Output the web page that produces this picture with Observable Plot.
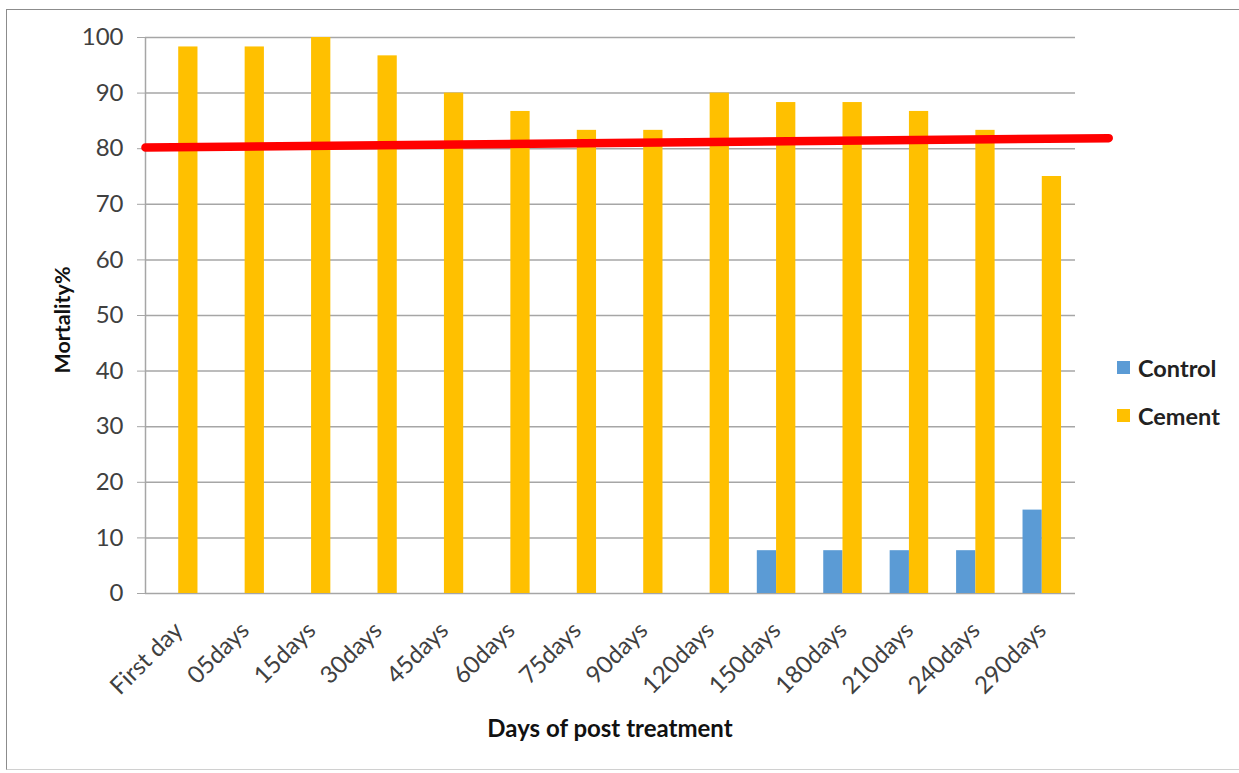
<!DOCTYPE html>
<html>
<head>
<meta charset="utf-8">
<script src="https://cdn.jsdelivr.net/npm/d3@7"></script>
<script src="https://cdn.jsdelivr.net/npm/@observablehq/plot@0.6"></script>
<style>
  html, body { margin: 0; padding: 0; background: #fff; }
  #wrap { position: relative; width: 1239px; height: 773px; overflow: hidden; font-family: Lato, "Open Sans", sans-serif; }
  #frame { position: absolute; left: 6px; top: 9px; width: 1300px; height: 761px; border-left: 1.5px solid #8c8c8c; border-top: 1.5px solid #8c8c8c; border-bottom: 1.5px solid #d0d0d0; box-sizing: border-box; }
  #chart { position: absolute; left: 0; top: 0; }
  .lab { position: absolute; font-weight: bold; color: #111; white-space: nowrap; }
  .leg { position: absolute; font-size: 23.5px; font-weight: bold; color: #222; white-space: nowrap; line-height: 1; }
  .sw { position: absolute; width: 13px; height: 13px; }
</style>
</head>
<body>
<div id="wrap">
  <div id="frame"></div>
  <div id="chart"></div>
  <div class="lab" style="left:62px; top:320px; font-size:21.5px; transform: translate(-50%,-50%) rotate(-90deg);">Mortality%</div>
  <div class="lab" style="left:610px; top:727px; font-size:24px; transform: translate(-50%,-50%);">Days of post treatment</div>
  <div class="sw" style="left:1117px; top:361px; background:#5B9BD5;"></div>
  <div class="leg" style="left:1138px; top:357px;">Control</div>
  <div class="sw" style="left:1117px; top:409px; background:#FFC000;"></div>
  <div class="leg" style="left:1138px; top:405px;">Cement</div>
</div>
<script>
const days = ["First day","05days","15days","30days","45days","60days","75days","90days","120days","150days","180days","210days","240days","290days"];
const control = [0,0,0,0,0,0,0,0,0,7.7,7.7,7.7,7.7,15];
const cement = [98.3,98.3,100,96.7,90,86.7,83.3,83.3,90,88.3,88.3,86.7,83.3,75];
const trendX = [-0.5, 14];
const trendY = [80.2, 81.9];
const yTicks = [0,10,20,30,40,50,60,70,80,90,100];

const w = 0.29;
const controlData = control.map((v, i) => ({i, v})).filter(d => d.v > 0);
const cementData = cement.map((v, i) => ({i, v}));
const trend = trendX.map((x, k) => ({x, y: trendY[k]}));

const chart = Plot.plot({
  width: 1239, height: 773,
  marginLeft: 145, marginRight: 164, marginTop: 37, marginBottom: 180,
  x: {type: "linear", domain: [-0.5, 13.5]},
  y: {domain: [0, 100]},
  style: {fontFamily: "Lato, 'Open Sans', sans-serif", fontSize: "24px", color: "#404040", background: "transparent", overflow: "visible"},
  marks: [
    Plot.gridY({ticks: yTicks, stroke: "#a6a6a6", strokeOpacity: 1, strokeWidth: 1.5}),
    Plot.axisY({ticks: yTicks, tickSize: 8, tickPadding: 14, stroke: "#a6a6a6", strokeOpacity: 1, label: null, fontSize: 24}),
    Plot.ruleX([-0.5], {stroke: "#a6a6a6", strokeWidth: 1.5}),
    Plot.axisX({ticks: d3.range(days.length), tickFormat: i => days[i], tickRotate: -45, tickSize: 0, tickPadding: 33, dx: 0, label: null, fontSize: 24}),
    Plot.rectY(controlData, {x1: d => d.i - w, x2: d => d.i, y: "v", fill: "#5B9BD5"}),
    Plot.rectY(cementData, {x1: d => d.i, x2: d => d.i + w, y: "v", fill: "#FFC000"}),
    Plot.line(trend, {x: "x", y: "y", stroke: "#FF0000", strokeWidth: 8.5})
  ]
});
document.getElementById("chart").appendChild(chart);
</script>
</body>
</html>
